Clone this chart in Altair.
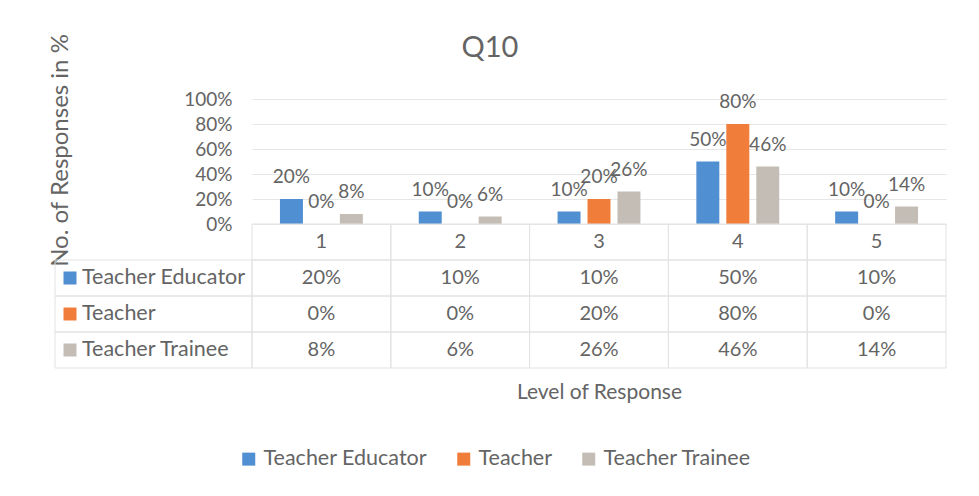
import altair as alt
import pandas as pd

title_text = "Q10"
categories = ["1", "2", "3", "4", "5"]
series = ["Teacher Educator", "Teacher", "Teacher Trainee"]
teacher_educator = [20, 10, 10, 50, 10]
teacher = [0, 0, 20, 80, 0]
teacher_trainee = [8, 6, 26, 46, 14]
colors = ["#4f8fd2", "#f07d3a", "#c4bdb6"]

FONT = "Lato"
TXT = "#646464"

values_by_series = [teacher_educator, teacher, teacher_trainee]
rows = []
for s, vals in zip(series, values_by_series):
    for c, v in zip(categories, vals):
        rows.append({"level": c, "group": s, "value": v, "label": f"{v}%"})
df = pd.DataFrame(rows)

table_rows = ["Level"] + series
tbl = [{"level": c, "row": "Level", "text": c} for c in categories]
tbl += [{"level": r["level"], "row": r["group"], "text": r["label"]} for r in rows]
tdf = pd.DataFrame(tbl)
ldf = pd.DataFrame({"row": series, "group": series})
title_df = pd.DataFrame({"t": [title_text]})

x_enc = alt.X(
    "level:N",
    scale=alt.Scale(domain=categories, paddingInner=0, paddingOuter=0),
    axis=alt.Axis(labels=False, ticks=False, domain=False, title="Level of Response",
                  titleY=168, titleBaseline="middle", titleFontSize=21, titleFont=FONT,
                  titleFontWeight="normal", titleColor=TXT),
)
xoff = alt.XOffset("group:N", scale=alt.Scale(domain=series, paddingInner=0.233, paddingOuter=0.933))
color_enc = alt.Color(
    "group:N",
    scale=alt.Scale(domain=series, range=colors),
    legend=alt.Legend(orient="none", legendX=-14, legendY=349, direction="horizontal", title=None,
                      symbolType="square", symbolSize=169, symbolStrokeWidth=0,
                      labelFontSize=21.5, labelFont=FONT, labelColor=TXT, labelLimit=400,
                      columnPadding=25, labelOffset=4),
)
y_scale = alt.Scale(domain=[0, 100])
y_axis = alt.Axis(values=[0, 20, 40, 60, 80, 100], labelExpr="datum.value + '%'", ticks=False,
                  domain=False, grid=True, gridColor="#e6e6e6", labelPadding=20,
                  labelFontSize=19, labelFont=FONT, labelColor=TXT,
                  title="No. of Responses in %", titleX=-192, titleY=51, titleAngle=270,
                  titleAlign="center", titleBaseline="middle", titleFontSize=24,
                  titleFont=FONT, titleFontWeight="normal", titleColor=TXT)
y_enc = alt.Y("value:Q", scale=y_scale, axis=y_axis)

bars = alt.Chart(df).mark_bar().encode(x=x_enc, xOffset=xoff, y=y_enc, color=color_enc)
bar_labels = alt.Chart(df).mark_text(baseline="alphabetic", dy=-16, fontSize=19, font=FONT, color=TXT).encode(
    x=x_enc, xOffset=xoff, y=y_enc, text="label:N"
)
bar_part = alt.layer(bars, bar_labels).resolve_scale(y="shared").resolve_axis(y="shared")

y_tab = alt.Y("row:N", scale=alt.Scale(domain=table_rows, range=[125, 269], paddingInner=0, paddingOuter=0), axis=None)

cells = alt.Chart(tdf).mark_rect(fillOpacity=0, stroke="#e2e2e2", strokeWidth=1).encode(x=x_enc, y=y_tab)
cell_text = alt.Chart(tdf).mark_text(fontSize=20, font=FONT, color=TXT, baseline="middle").encode(
    x=x_enc, y=y_tab, text="text:N"
)
label_cells = alt.Chart(ldf).mark_rect(fillOpacity=0, stroke="#e2e2e2", strokeWidth=1).encode(
    x=alt.value(-197), x2=alt.value(0), y=y_tab
)
label_squares = alt.Chart(ldf).mark_square(size=169, opacity=1).encode(
    x=alt.value(-182), y=y_tab, color=color_enc
)
label_text = alt.Chart(ldf).mark_text(align="left", baseline="middle", fontSize=21.5, font=FONT, color=TXT).encode(
    x=alt.value(-170), y=y_tab, text="row:N"
)
table_part = alt.layer(cells, cell_text, label_cells, label_squares, label_text)

title_mark = alt.Chart(title_df).mark_text(fontSize=29, font=FONT, color=TXT, baseline="middle", align="center").encode(
    x=alt.value(238), y=alt.value(-51), text="t:N"
)

chart = (
    alt.layer(bar_part, table_part, title_mark)
    .resolve_scale(y="independent")
    .properties(
        width=694,
        height=125,
        autosize=alt.AutoSizeParams(type="none"),
        padding={"left": 244, "top": 91, "right": 20, "bottom": 260},
        background="white",
    )
    .configure_view(stroke=None)
)

chart.save("out.html", embed_options={"renderer": "svg", "actions": False})
